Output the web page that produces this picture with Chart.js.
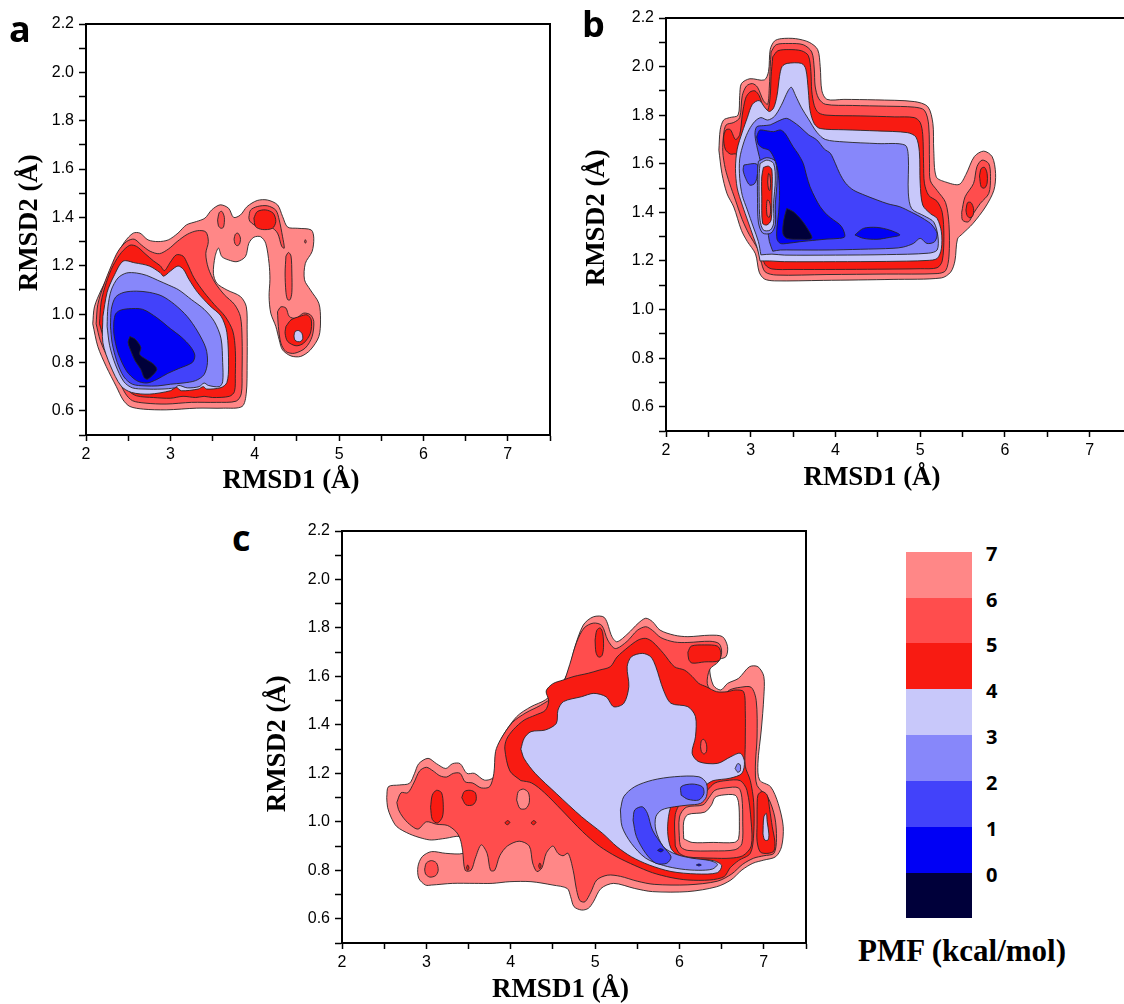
<!DOCTYPE html>
<html><head><meta charset="utf-8">
<script src="https://cdn.jsdelivr.net/npm/chart.js@4.4.1/dist/chart.umd.min.js"></script>
<style>
html,body{margin:0;padding:0;background:#fff;overflow:hidden;width:1124px;height:1004px;}
body{position:relative;}
canvas{position:absolute;}
.plab{position:absolute;font-family:"Open Sans",sans-serif;font-weight:700;font-size:36px;line-height:36px;color:#000;}
.cell{position:absolute;left:906px;width:66px;}
.clab{position:absolute;left:986px;font-family:"Open Sans",sans-serif;font-weight:700;font-size:20px;line-height:20px;color:#000;transform:translateY(-50%);}
.ctitle{position:absolute;left:858px;top:934px;font-family:"Liberation Serif","Times New Roman",serif;font-weight:700;font-size:31px;line-height:34px;color:#000;white-space:nowrap;}
</style></head>
<body>
<canvas id="ca" width="560" height="500" style="left:0;top:0"></canvas>
<canvas id="cb" width="562" height="500" style="left:580px;top:0"></canvas>
<canvas id="cc" width="560" height="500" style="left:256px;top:507px"></canvas>
<div class="plab" style="left:9px;top:11px">a</div>
<div class="plab" style="left:582px;top:6px">b</div>
<div class="plab" style="left:232px;top:520px">c</div>
<div id="cbar"></div>
<script>
// ---------- colour bar ----------
const pmfLevels = [7, 6, 5, 4, 3, 2, 1, 0];
const bandColors = ['#00003A', '#0000F5', '#4242FA', '#8787FA', '#C8C8FA', '#F81B12', '#FF4D4D', '#FF8787', '#FFFFFF'];
// bandColors[k]: k=0 -> PMF<0, k=1 -> 0..1, ... k=7 -> 6..7, k=8 -> above 7 (blank)

// ---------- panel a (RMSD1, RMSD2) contour outlines ----------
const a7_main = [[2.08,0.96],[2.10,1.03],[2.18,1.10],[2.28,1.17],[2.36,1.24],[2.46,1.30],[2.56,1.335],[2.64,1.335],[2.735,1.307],[2.855,1.30],[2.975,1.307],[3.09,1.335],[3.19,1.369],[3.31,1.383],[3.41,1.397],[3.49,1.431],[3.59,1.452],[3.69,1.438],[3.75,1.40],[3.83,1.41],[3.91,1.445],[4.03,1.47],[4.15,1.472],[4.27,1.452],[4.33,1.404],[4.39,1.36],[4.51,1.355],[4.67,1.348],[4.70,1.314],[4.68,1.259],[4.60,1.21],[4.59,1.142],[4.66,1.10],[4.76,1.045],[4.78,0.976],[4.76,0.907],[4.66,0.852],[4.545,0.825],[4.43,0.827],[4.33,0.852],[4.29,0.894],[4.25,0.949],[4.19,1.004],[4.17,1.073],[4.18,1.142],[4.17,1.21],[4.13,1.293],[4.07,1.32],[3.99,1.318],[3.93,1.293],[3.89,1.238],[3.79,1.217],[3.69,1.224],[3.61,1.238],[3.57,1.273],[3.53,1.238],[3.51,1.169],[3.55,1.128],[3.67,1.10],[3.83,1.073],[3.90,1.031],[3.91,0.935],[3.91,0.797],[3.90,0.673],[3.85,0.618],[3.63,0.611],[3.31,0.611],[2.95,0.604],[2.68,0.607],[2.52,0.618],[2.44,0.645],[2.36,0.70],[2.24,0.783],[2.14,0.866]];
const a6_main = [[2.12,0.96],[2.14,1.04],[2.21,1.12],[2.30,1.20],[2.38,1.26],[2.48,1.30],[2.57,1.31],[2.66,1.285],[2.76,1.26],[2.87,1.25],[2.98,1.27],[3.08,1.30],[3.2,1.33],[3.32,1.345],[3.42,1.34],[3.45,1.30],[3.42,1.25],[3.45,1.19],[3.53,1.13],[3.64,1.08],[3.76,1.04],[3.83,0.99],[3.85,0.90],[3.85,0.76],[3.84,0.67],[3.78,0.64],[3.55,0.635],[3.25,0.635],[2.95,0.628],[2.7,0.632],[2.55,0.642],[2.47,0.67],[2.39,0.725],[2.27,0.81],[2.17,0.89]];
const a6_dotA = [[3.56,1.39],[3.58,1.42],[3.61,1.425],[3.64,1.40],[3.63,1.36],[3.6,1.355],[3.57,1.365]];
const a6_dotB = [[3.755,1.31],[3.77,1.33],[3.8,1.335],[3.83,1.315],[3.82,1.29],[3.79,1.283],[3.765,1.292]];
const a6_armTop = [[3.93,1.40],[3.95,1.43],[4.03,1.445],[4.15,1.448],[4.25,1.43],[4.29,1.39],[4.33,1.32],[4.35,1.273],[4.32,1.28],[4.27,1.335],[4.19,1.36],[4.07,1.36],[3.99,1.37],[3.94,1.385]];
const a6_armStreak = [[4.37,1.24],[4.4,1.255],[4.43,1.24],[4.44,1.17],[4.44,1.09],[4.42,1.06],[4.39,1.06],[4.37,1.09],[4.36,1.17]];
const a6_armDot = [[4.59,1.30],[4.60,1.308],[4.61,1.30],[4.60,1.293]];
const a6_armLow = [[4.27,1.01],[4.31,1.03],[4.37,1.025],[4.41,0.99],[4.49,0.983],[4.58,1.004],[4.66,0.997],[4.70,0.97],[4.68,0.907],[4.6,0.86],[4.47,0.838],[4.37,0.845],[4.31,0.88],[4.28,0.949]];
const a5_main = [[2.16,0.96],[2.18,1.05],[2.24,1.13],[2.32,1.2],[2.42,1.255],[2.52,1.285],[2.6,1.28],[2.7,1.25],[2.8,1.22],[2.88,1.2],[2.93,1.18],[3.0,1.215],[3.07,1.245],[3.15,1.24],[3.2,1.21],[3.28,1.15],[3.4,1.09],[3.52,1.04],[3.65,0.99],[3.74,0.93],[3.77,0.85],[3.77,0.75],[3.76,0.68],[3.7,0.66],[3.5,0.655],[3.4,0.66],[3.3,0.655],[3.15,0.66],[3.0,0.652],[2.8,0.655],[2.6,0.662],[2.5,0.685],[2.43,0.735],[2.32,0.81],[2.22,0.89]];
const a5_armSpot = [[3.99,1.397],[4.03,1.424],[4.13,1.431],[4.22,1.417],[4.25,1.383],[4.21,1.355],[4.09,1.35],[4.01,1.362]];
const a5_armLow = [[4.37,0.949],[4.43,0.976],[4.53,0.99],[4.62,0.997],[4.67,0.976],[4.66,0.921],[4.58,0.88],[4.49,0.869],[4.39,0.887],[4.36,0.921]];
const a4_armDot = [[4.465,0.91],[4.48,0.928],[4.52,0.932],[4.56,0.92],[4.57,0.9],[4.55,0.888],[4.51,0.886],[4.475,0.893]];
const a4_main = [[2.2,0.99],[2.25,1.09],[2.33,1.157],[2.44,1.219],[2.58,1.212],[2.75,1.199],[2.88,1.171],[2.92,1.157],[3.0,1.178],[3.09,1.199],[3.155,1.185],[3.22,1.144],[3.325,1.089],[3.47,1.034],[3.6,0.992],[3.67,0.924],[3.69,0.786],[3.67,0.717],[3.6,0.696],[3.43,0.69],[3.39,0.70],[3.33,0.69],[3.13,0.683],[3.07,0.697],[3.0,0.683],[2.75,0.669],[2.54,0.676],[2.415,0.703],[2.29,0.786],[2.2,0.882]];
const a3_main = [[2.25,0.95],[2.26,1.03],[2.3,1.1],[2.38,1.15],[2.48,1.17],[2.6,1.17],[2.72,1.16],[2.85,1.14],[2.98,1.12],[3.1,1.1],[3.25,1.06],[3.4,1.02],[3.52,0.97],[3.6,0.9],[3.62,0.8],[3.62,0.72],[3.58,0.70],[3.45,0.705],[3.4,0.715],[3.34,0.70],[3.2,0.695],[3.1,0.705],[3.05,0.695],[2.9,0.69],[2.7,0.69],[2.55,0.695],[2.45,0.72],[2.35,0.79],[2.28,0.87]];
const a2_main = [[2.29,0.95],[2.3,1.02],[2.35,1.07],[2.45,1.09],[2.6,1.095],[2.75,1.09],[2.9,1.075],[3.05,1.04],[3.2,0.99],[3.32,0.93],[3.42,0.86],[3.44,0.8],[3.4,0.75],[3.3,0.725],[3.15,0.715],[3.0,0.71],[2.85,0.703],[2.7,0.703],[2.55,0.71],[2.45,0.74],[2.37,0.8],[2.31,0.88]];
const a1_main = [[2.33,0.97],[2.35,1.0],[2.4,1.015],[2.5,1.022],[2.67,1.02],[2.84,0.985],[3.0,0.94],[3.13,0.905],[3.24,0.865],[3.29,0.83],[3.26,0.8],[3.1,0.775],[2.97,0.755],[2.84,0.73],[2.72,0.715],[2.6,0.725],[2.48,0.765],[2.38,0.84],[2.33,0.92]];
const a0_main = [[2.52,0.907],[2.584,0.896],[2.65,0.862],[2.635,0.834],[2.71,0.813],[2.8,0.793],[2.84,0.772],[2.8,0.751],[2.73,0.731],[2.69,0.737],[2.65,0.772],[2.584,0.806],[2.54,0.841],[2.5,0.882]];

// ---------- panel b ----------
const b7_main = [[2.624,1.656],[2.64,1.74],[2.68,1.78],[2.75,1.79],[2.85,1.80],[2.87,1.88],[2.89,1.93],[2.99,1.95],[3.16,1.945],[3.21,1.98],[3.23,2.07],[3.28,2.105],[3.36,2.115],[3.53,2.115],[3.69,2.1],[3.79,2.07],[3.82,2.0],[3.84,1.9],[3.9,1.865],[4.1,1.865],[4.47,1.863],[4.93,1.856],[5.09,1.835],[5.15,1.766],[5.16,1.656],[5.19,1.546],[5.3,1.525],[5.46,1.515],[5.54,1.556],[5.64,1.63],[5.75,1.652],[5.85,1.629],[5.89,1.56],[5.87,1.491],[5.77,1.422],[5.62,1.353],[5.5,1.312],[5.44,1.29],[5.41,1.2],[5.36,1.154],[5.25,1.13],[4.68,1.124],[3.857,1.12],[3.28,1.118],[3.16,1.126],[3.1,1.154],[3.056,1.229],[2.96,1.28],[2.89,1.326],[2.8,1.422],[2.72,1.477],[2.66,1.56]];
const b6_main = [[3.24,2.06],[3.3,2.09],[3.45,2.095],[3.62,2.09],[3.72,2.06],[3.75,1.99],[3.76,1.92],[3.8,1.87],[3.88,1.845],[4.2,1.84],[4.6,1.837],[4.93,1.833],[5.05,1.82],[5.1,1.76],[5.11,1.6],[5.12,1.53],[5.2,1.49],[5.3,1.44],[5.34,1.35],[5.34,1.22],[5.3,1.16],[5.2,1.148],[4.6,1.146],[3.9,1.144],[3.3,1.142],[3.17,1.155],[3.12,1.2],[3.08,1.25],[2.98,1.31],[2.9,1.37],[2.82,1.45],[2.75,1.52],[2.7,1.58],[2.67,1.65],[2.68,1.72],[2.71,1.76],[2.8,1.77],[2.87,1.79],[2.9,1.88],[2.95,1.92],[3.02,1.93],[3.08,1.915],[3.15,1.86],[3.2,1.845],[3.22,1.92],[3.23,2.0]];
const b6_island = [[5.49,1.40],[5.53,1.464],[5.63,1.519],[5.67,1.588],[5.73,1.615],[5.81,1.60],[5.83,1.547],[5.81,1.478],[5.71,1.437],[5.63,1.396],[5.57,1.361],[5.5,1.368]];
const b5_main = [[3.26,2.04],[3.32,2.065],[3.45,2.07],[3.6,2.065],[3.68,2.045],[3.71,1.98],[3.72,1.9],[3.75,1.84],[3.8,1.81],[3.9,1.8],[4.3,1.797],[4.7,1.793],[4.93,1.79],[5.0,1.77],[5.03,1.72],[5.04,1.6],[5.05,1.52],[5.1,1.47],[5.2,1.445],[5.26,1.40],[5.28,1.3],[5.26,1.2],[5.2,1.172],[5.0,1.168],[4.5,1.166],[4.0,1.165],[3.5,1.165],[3.25,1.167],[3.17,1.185],[3.13,1.23],[3.09,1.29],[3.02,1.34],[2.94,1.41],[2.88,1.48],[2.85,1.56],[2.86,1.62],[2.83,1.64],[2.76,1.64],[2.7,1.66],[2.68,1.71],[2.71,1.74],[2.76,1.74],[2.82,1.7],[2.87,1.72],[2.9,1.8],[2.94,1.87],[2.99,1.895],[3.05,1.9],[3.1,1.88],[3.15,1.835],[3.2,1.82],[3.23,1.88],[3.24,1.96]];
const b5_isl1 = [[5.7,1.55],[5.72,1.58],[5.76,1.585],[5.79,1.56],[5.79,1.52],[5.76,1.5],[5.72,1.505]];
const b5_isl2 = [[5.54,1.41],[5.56,1.44],[5.6,1.44],[5.63,1.415],[5.62,1.385],[5.58,1.378],[5.55,1.39]];
const b4_main = [[3.11,1.20],[3.08,1.25],[3.03,1.30],[2.97,1.36],[2.9,1.43],[2.84,1.5],[2.82,1.58],[2.84,1.66],[2.9,1.73],[2.96,1.79],[3.02,1.845],[3.1,1.86],[3.17,1.83],[3.22,1.815],[3.27,1.83],[3.31,1.88],[3.34,1.96],[3.37,2.0],[3.43,2.013],[3.6,2.013],[3.65,1.99],[3.68,1.9],[3.7,1.82],[3.75,1.765],[3.82,1.745],[4.1,1.74],[4.5,1.735],[4.85,1.728],[4.95,1.71],[4.99,1.65],[5.0,1.52],[5.03,1.43],[5.12,1.395],[5.2,1.375],[5.25,1.32],[5.25,1.25],[5.2,1.21],[5.08,1.202],[4.6,1.198],[4.0,1.197],[3.4,1.197],[3.22,1.2]];
const b3_main = [[3.12,1.225],[3.09,1.28],[3.03,1.34],[2.96,1.41],[2.9,1.47],[2.87,1.54],[2.87,1.62],[2.92,1.69],[2.98,1.74],[3.05,1.775],[3.12,1.79],[3.2,1.78],[3.28,1.795],[3.36,1.84],[3.44,1.9],[3.48,1.915],[3.53,1.88],[3.6,1.83],[3.68,1.785],[3.78,1.73],[3.88,1.7],[4.1,1.69],[4.5,1.683],[4.82,1.677],[4.86,1.63],[4.86,1.48],[4.9,1.415],[5.05,1.385],[5.16,1.36],[5.21,1.30],[5.2,1.245],[5.1,1.232],[4.6,1.226],[4.0,1.224],[3.4,1.224],[3.25,1.228]];
const b2_main = [[3.26,1.24],[3.22,1.28],[3.2,1.33],[3.17,1.4],[3.15,1.5],[3.12,1.6],[3.08,1.66],[3.05,1.72],[3.07,1.752],[3.15,1.757],[3.23,1.76],[3.32,1.775],[3.42,1.787],[3.5,1.773],[3.58,1.752],[3.68,1.72],[3.78,1.698],[3.87,1.66],[3.94,1.643],[4.0,1.6],[4.05,1.56],[4.12,1.52],[4.21,1.492],[4.35,1.47],[4.49,1.451],[4.62,1.435],[4.76,1.423],[4.9,1.40],[5.0,1.382],[5.1,1.36],[5.14,1.348],[5.2,1.313],[5.17,1.279],[5.08,1.272],[5.0,1.293],[4.92,1.272],[4.8,1.257],[4.68,1.252],[4.3,1.248],[3.9,1.245],[3.5,1.245],[3.35,1.245]];
const b2_pocket = [[2.92,1.595],[3.07,1.599],[3.08,1.56],[3.05,1.52],[2.99,1.512],[2.94,1.54],[2.91,1.574]];
const b1_main = [[3.07,1.71],[3.09,1.73],[3.11,1.739],[3.2,1.735],[3.27,1.732],[3.35,1.739],[3.405,1.725],[3.45,1.70],[3.5,1.67],[3.56,1.64],[3.62,1.601],[3.66,1.55],[3.7,1.505],[3.76,1.46],[3.82,1.423],[3.9,1.39],[3.98,1.368],[4.05,1.35],[4.09,1.33],[4.11,1.30],[4.05,1.293],[3.9,1.29],[3.78,1.286],[3.58,1.279],[3.425,1.272],[3.35,1.272],[3.31,1.29],[3.31,1.34],[3.33,1.40],[3.34,1.49],[3.32,1.57],[3.28,1.62],[3.22,1.655],[3.14,1.665],[3.09,1.68]];
const b1_blob2 = [[4.23,1.307],[4.33,1.334],[4.49,1.338],[4.64,1.327],[4.76,1.307],[4.64,1.297],[4.49,1.289],[4.33,1.293]];
const b0_main = [[3.425,1.416],[3.5,1.403],[3.6,1.368],[3.68,1.327],[3.72,1.293],[3.58,1.289],[3.425,1.293],[3.38,1.313],[3.39,1.368]];
const b3_strip = [[3.09,1.61],[3.19,1.625],[3.29,1.61],[3.31,1.53],[3.29,1.43],[3.29,1.35],[3.24,1.315],[3.14,1.315],[3.09,1.36],[3.08,1.46],[3.08,1.56]];
const b4_strip = [[3.11,1.601],[3.19,1.615],[3.27,1.601],[3.29,1.533],[3.27,1.437],[3.27,1.355],[3.23,1.327],[3.15,1.327],[3.11,1.368],[3.1,1.464],[3.1,1.56]];
const b5_strip = [[3.15,1.585],[3.21,1.59],[3.25,1.574],[3.25,1.464],[3.24,1.368],[3.19,1.348],[3.14,1.355],[3.13,1.464],[3.13,1.546]];
const b6_strip1 = [[3.2,1.525],[3.21,1.56],[3.225,1.555],[3.235,1.52],[3.225,1.49],[3.21,1.495]];
const b6_strip2 = [[3.185,1.42],[3.195,1.45],[3.22,1.445],[3.235,1.41],[3.22,1.38],[3.195,1.385]];

// ---------- panel c ----------
const c7_main = [[2.53,1.10],[2.55,1.145],[2.68,1.152],[2.8,1.159],[2.86,1.2],[2.91,1.24],[3.02,1.262],[3.12,1.24],[3.23,1.22],[3.31,1.24],[3.40,1.24],[3.48,1.2],[3.57,1.2],[3.69,1.172],[3.8,1.186],[3.84,1.296],[3.9,1.351],[4.07,1.434],[4.24,1.475],[4.41,1.503],[4.58,1.558],[4.69,1.626],[4.75,1.709],[4.86,1.812],[4.98,1.846],[5.11,1.843],[5.2,1.764],[5.26,1.743],[5.39,1.777],[5.51,1.819],[5.6,1.84],[5.68,1.826],[5.77,1.791],[5.94,1.77],[6.1,1.764],[6.36,1.77],[6.51,1.764],[6.57,1.723],[6.55,1.681],[6.44,1.668],[6.36,1.64],[6.4,1.564],[6.49,1.544],[6.57,1.571],[6.7,1.592],[6.83,1.64],[6.93,1.64],[7.0,1.6],[7.0,1.516],[6.97,1.379],[6.93,1.241],[6.95,1.172],[7.08,1.145],[7.17,1.076],[7.23,0.98],[7.21,0.897],[7.14,0.856],[7.0,0.842],[6.87,0.829],[6.74,0.801],[6.61,0.76],[6.44,0.732],[6.1,0.712],[5.68,0.712],[5.47,0.725],[5.22,0.746],[5.07,0.725],[4.98,0.67],[4.92,0.643],[4.84,0.636],[4.75,0.65],[4.71,0.691],[4.67,0.725],[4.5,0.739],[4.24,0.753],[3.99,0.753],[3.78,0.746],[3.57,0.746],[3.31,0.746],[3.06,0.739],[2.99,0.739],[2.91,0.767],[2.9,0.815],[2.95,0.856],[3.06,0.877],[3.23,0.87],[3.44,0.87],[3.52,0.9],[3.4,0.939],[3.23,0.932],[3.06,0.925],[2.95,0.932],[2.8,0.95],[2.65,0.98],[2.58,1.02],[2.54,1.06]];
const c6_main = [[2.65,1.08],[2.7,1.12],[2.78,1.12],[2.85,1.16],[2.92,1.21],[3.0,1.225],[3.08,1.21],[3.16,1.19],[3.24,1.185],[3.32,1.2],[3.4,1.2],[3.46,1.165],[3.55,1.16],[3.65,1.14],[3.75,1.145],[3.8,1.2],[3.82,1.29],[3.88,1.34],[4.02,1.41],[4.18,1.45],[4.35,1.48],[4.52,1.52],[4.62,1.57],[4.7,1.65],[4.78,1.74],[4.87,1.8],[4.98,1.82],[5.08,1.81],[5.15,1.75],[5.24,1.715],[5.38,1.745],[5.5,1.79],[5.6,1.805],[5.68,1.79],[5.78,1.76],[5.94,1.742],[6.1,1.74],[6.36,1.745],[6.47,1.735],[6.5,1.70],[6.46,1.66],[6.36,1.63],[6.33,1.57],[6.4,1.53],[6.5,1.52],[6.6,1.545],[6.72,1.555],[6.85,1.555],[6.91,1.5],[6.92,1.35],[6.9,1.23],[6.92,1.15],[7.05,1.10],[7.13,1.02],[7.15,0.93],[7.12,0.87],[7.0,0.86],[6.88,0.85],[6.75,0.825],[6.62,0.785],[6.45,0.755],[6.1,0.74],[5.7,0.742],[5.5,0.755],[5.3,0.775],[5.15,0.78],[5.02,0.76],[4.95,0.71],[4.88,0.67],[4.82,0.675],[4.78,0.72],[4.74,0.8],[4.68,0.87],[4.62,0.86],[4.56,0.87],[4.5,0.9],[4.42,0.87],[4.37,0.81],[4.31,0.795],[4.26,0.83],[4.22,0.9],[4.1,0.92],[3.96,0.9],[3.87,0.86],[3.81,0.8],[3.76,0.8],[3.72,0.87],[3.65,0.905],[3.58,0.85],[3.53,0.8],[3.46,0.8],[3.43,0.88],[3.4,0.93],[3.35,0.96],[3.25,0.985],[3.12,0.99],[3.0,1.0],[2.9,0.97],[2.8,0.99],[2.72,1.02],[2.67,1.05]];
const c7_hole1 = [[4.07,1.09],[4.09,1.125],[4.15,1.135],[4.21,1.12],[4.22,1.08],[4.18,1.055],[4.11,1.055]];
const c6_lowLeft = [[2.98,0.805],[3.0,0.83],[3.06,0.84],[3.12,0.83],[3.14,0.8],[3.11,0.778],[3.04,0.772],[2.99,0.785]];
const c5_lobe1 = [[3.05,1.06],[3.07,1.11],[3.12,1.13],[3.18,1.12],[3.2,1.07],[3.19,1.02],[3.13,0.995],[3.07,1.01]];
const c5_lobe2 = [[3.42,1.1],[3.45,1.125],[3.52,1.13],[3.58,1.12],[3.59,1.09],[3.55,1.07],[3.47,1.07]];
const c5_dot1 = [[3.93,0.995],[3.96,1.005],[3.99,0.998],[3.96,0.988]];
const c5_dot2 = [[4.24,0.995],[4.27,1.005],[4.3,0.998],[4.27,0.988]];
const c5_dot3 = [[3.475,0.81],[3.49,0.822],[3.505,0.81],[3.49,0.8]];
const c5_dot4 = [[4.33,0.818],[4.345,0.83],[4.36,0.818],[4.345,0.806]];
const c5_top1 = [[5.0,1.75],[5.02,1.79],[5.06,1.8],[5.09,1.78],[5.1,1.72],[5.08,1.685],[5.04,1.68],[5.01,1.7]];
const c5_top2 = [[6.1,1.7],[6.14,1.725],[6.3,1.73],[6.45,1.725],[6.49,1.7],[6.47,1.665],[6.3,1.66],[6.15,1.655],[6.11,1.67]];
const c5_main = [[4.12,1.17],[3.99,1.21],[3.93,1.30],[3.95,1.34],[4.03,1.38],[4.16,1.42],[4.29,1.44],[4.41,1.46],[4.45,1.50],[4.42,1.54],[4.5,1.57],[4.62,1.585],[4.75,1.60],[4.92,1.613],[5.05,1.626],[5.18,1.64],[5.26,1.68],[5.39,1.72],[5.51,1.75],[5.6,1.757],[5.68,1.743],[5.81,1.695],[5.94,1.64],[6.06,1.626],[6.15,1.60],[6.23,1.571],[6.32,1.557],[6.44,1.537],[6.57,1.537],[6.66,1.544],[6.76,1.537],[6.78,1.46],[6.78,1.32],[6.78,1.23],[6.84,1.17],[6.88,1.08],[6.88,0.95],[6.84,0.87],[6.7,0.84],[6.6,0.81],[6.53,0.774],[6.36,0.76],[6.1,0.76],[5.9,0.77],[5.68,0.79],[5.47,0.82],[5.26,0.855],[5.05,0.9],[4.85,0.96],[4.6,1.05],[4.4,1.12],[4.25,1.16]];
const c6_ring = [[5.95,0.9],[5.95,1.03],[6.05,1.09],[6.25,1.1],[6.33,1.13],[6.42,1.16],[6.55,1.17],[6.72,1.17],[6.8,1.13],[6.85,1.0],[6.85,0.9],[6.75,0.86],[6.6,0.85],[6.4,0.85],[6.1,0.855],[6.0,0.87]];
const c7_ring = [[6.0,0.92],[6.0,1.02],[6.08,1.06],[6.28,1.07],[6.35,1.1],[6.42,1.13],[6.55,1.14],[6.7,1.14],[6.74,1.1],[6.75,1.0],[6.74,0.91],[6.66,0.885],[6.4,0.88],[6.1,0.882],[6.02,0.895]];
const c8_hole = [[6.05,0.93],[6.05,1.0],[6.1,1.03],[6.3,1.04],[6.38,1.07],[6.42,1.1],[6.5,1.11],[6.66,1.11],[6.7,1.08],[6.71,1.0],[6.7,0.93],[6.65,0.915],[6.4,0.915],[6.15,0.915]];
const c5_farRight = [[6.92,1.05],[6.93,1.11],[6.98,1.125],[7.04,1.11],[7.07,1.05],[7.1,0.98],[7.13,0.92],[7.12,0.88],[7.05,0.87],[6.96,0.875],[6.92,0.92],[6.92,0.99]];
const c4_farRight = [[6.99,0.95],[7.0,1.02],[7.03,1.035],[7.04,1.0],[7.06,0.95],[7.05,0.925],[7.01,0.925]];
const c4_main = [[4.12,1.3],[4.16,1.345],[4.24,1.372],[4.41,1.379],[4.54,1.406],[4.56,1.461],[4.625,1.496],[4.837,1.516],[4.985,1.53],[5.13,1.516],[5.22,1.475],[5.34,1.489],[5.4,1.558],[5.38,1.64],[5.43,1.681],[5.56,1.695],[5.66,1.681],[5.72,1.64],[5.81,1.544],[5.9,1.489],[6.1,1.475],[6.19,1.434],[6.19,1.351],[6.15,1.283],[6.23,1.248],[6.45,1.241],[6.61,1.269],[6.72,1.283],[6.77,1.25],[6.74,1.2],[6.6,1.18],[6.4,1.17],[6.3,1.15],[6.1,1.12],[5.95,1.1],[5.88,1.04],[5.86,0.96],[5.9,0.89],[6.0,0.86],[6.2,0.845],[6.4,0.84],[6.5,0.82],[6.45,0.79],[6.2,0.785],[5.9,0.795],[5.64,0.822],[5.43,0.856],[5.26,0.897],[5.09,0.952],[4.84,1.021],[4.54,1.117],[4.29,1.2],[4.16,1.26]];
const c6_rightRing = [[6.25,1.31],[6.26,1.335],[6.29,1.34],[6.32,1.32],[6.32,1.29],[6.29,1.28],[6.26,1.29]];
const c3_dot = [[6.66,1.22],[6.69,1.24],[6.72,1.235],[6.72,1.21],[6.69,1.205]];
const c3_hook = [[5.3,1.049],[5.34,1.104],[5.47,1.145],[5.68,1.172],[5.94,1.186],[6.23,1.186],[6.32,1.159],[6.32,1.104],[6.25,1.076],[6.1,1.069],[5.94,1.062],[5.79,1.049],[5.72,1.021],[5.72,0.966],[5.81,0.897],[5.96,0.866],[6.15,0.85],[6.36,0.84],[6.45,0.825],[6.39,0.805],[6.23,0.8],[6.02,0.805],[5.81,0.82],[5.6,0.85],[5.43,0.911],[5.32,0.98]];
const c2_upper = [[6.02,1.11],[6.02,1.145],[6.15,1.156],[6.27,1.145],[6.29,1.117],[6.23,1.09],[6.1,1.093]];
const c2_lower = [[5.45,1.007],[5.47,1.049],[5.56,1.062],[5.62,1.035],[5.68,0.966],[5.81,0.897],[5.9,0.856],[5.85,0.829],[5.72,0.829],[5.6,0.87],[5.49,0.939]];
const c1_dotA = [[5.74,0.882],[5.77,0.889],[5.81,0.884],[5.78,0.876]];
const c1_dotB = [[6.2,0.822],[6.23,0.826],[6.26,0.822],[6.23,0.818]];

// drawing order (bottom first): [outline, band index]
const layersA = [[a7_main,7],[a6_main,6],[a6_dotA,6],[a6_dotB,6],[a6_armTop,6],[a6_armStreak,6],[a6_armDot,6],[a6_armLow,6],[a5_main,5],[a5_armSpot,5],[a5_armLow,5],[a4_armDot,4],[a4_main,4],[a3_main,3],[a2_main,2],[a1_main,1],[a0_main,0]];
const layersB = [[b7_main,7],[b6_main,6],[b6_island,6],[b5_main,5],[b5_isl1,5],[b5_isl2,5],[b4_main,4],[b3_main,3],[b2_main,2],[b2_pocket,2],[b1_main,1],[b1_blob2,1],[b0_main,0],[b3_strip,3],[b4_strip,4],[b5_strip,5],[b6_strip1,6],[b6_strip2,6]];
const layersC = [[c7_main,7],[c6_main,6],[c7_hole1,7],[c6_lowLeft,6],[c5_lobe1,5],[c5_lobe2,5],[c5_dot1,5],[c5_dot2,5],[c5_dot3,5],[c5_dot4,5],[c5_top1,5],[c5_top2,5],[c5_main,5],[c6_ring,6],[c7_ring,7],[c8_hole,8],[c5_farRight,5],[c4_farRight,4],[c4_main,4],[c6_rightRing,6],[c3_dot,3],[c3_hook,3],[c2_upper,2],[c2_lower,2],[c1_dotA,1],[c1_dotB,1]];

const xRange = [2, 7.5];
const yRange = [0.5, 2.2];
const EM = '\u2003', EN = '\u2002';

function makePanel(id, layers, g) {
  const datasets = layers.map(([pts, band]) => ({
    data: pts.concat([pts[0]]).map(p => ({x: p[0], y: p[1]})),
    showLine: true,
    fill: 'shape',
    backgroundColor: bandColors[band],
    borderColor: '#262626',
    borderWidth: 0.9,
    pointRadius: 0,
    pointHoverRadius: 0,
    tension: 0.3
  })).reverse();
  const tickFont = {family: '"Liberation Sans", Arial, sans-serif', size: 16};
  const titleFont = {family: '"Liberation Serif", "Times New Roman", serif', size: 27, weight: 'bold'};
  const frame = {display: true, color: '#000', width: 2};
  new Chart(document.getElementById(id), {
    type: 'scatter',
    data: {datasets},
    options: {
      responsive: false, animation: false, events: [],
      layout: {padding: {left: 0, right: 10, top: g.top, bottom: 0}},
      plugins: {legend: {display: false}, tooltip: {enabled: false}},
      scales: {
        x: {
          type: 'linear', position: 'bottom', min: xRange[0], max: xRange[1],
          ticks: {stepSize: 0.5, autoSkip: false, maxRotation: 0, color: '#000', font: tickFont, padding: 4,
                  callback: v => (Math.abs(v - Math.round(v)) < 1e-6 ? String(Math.round(v)) : '')},
          grid: {display: true, drawOnChartArea: false, drawTicks: true, tickLength: 6, tickColor: '#000', tickWidth: 1.5},
          border: frame,
          title: {display: true, text: g.xTitle, color: '#000', font: titleFont, padding: {top: 0, bottom: g.xTitlePad}},
          afterFit: s => { s.height = g.xH; }
        },
        y: {
          type: 'linear', position: 'left', min: yRange[0], max: yRange[1],
          ticks: {stepSize: 0.1, autoSkip: false, color: '#000', font: tickFont, padding: 5,
                  callback: v => (Math.round(v * 10) % 2 === 0 ? v.toFixed(1) : '')},
          grid: {display: true, drawOnChartArea: false, drawTicks: true, tickLength: 7, tickColor: '#000', tickWidth: 1.5},
          border: frame,
          title: {display: true, text: g.yTitle, color: '#000', font: titleFont, padding: {top: g.yTitlePad, bottom: 0}},
          afterFit: s => { s.width = 86; }
        },
        x2: {
          type: 'linear', position: 'top', min: xRange[0], max: xRange[1],
          ticks: {display: false}, grid: {display: false}, border: frame,
          afterFit: s => { s.height = 0; }
        },
        y2: {
          type: 'linear', position: 'right', min: yRange[0], max: yRange[1],
          ticks: {display: false}, grid: {display: false}, border: frame,
          afterFit: s => { s.width = 0; }
        }
      }
    }
  });
}

makePanel('ca', layersA, {top: 24, xH: 65, xTitlePad: 3, yTitlePad: 14,
  xTitle: 'RMSD1 (Å)' + EM + EM, yTitle: EN + 'RMSD2 (Å)'});
makePanel('cb', layersB, {top: 18, xH: 69, xTitlePad: 6, yTitlePad: 1,
  xTitle: 'RMSD1 (Å)' + EM + EM, yTitle: EN + 'RMSD2 (Å)'});
makePanel('cc', layersC, {top: 24, xH: 64, xTitlePad: 1, yTitlePad: 6,
  xTitle: 'RMSD1 (Å)' + EM, yTitle: 'RMSD2 (Å)' + EN});

// colour bar (legend)
const cbar = document.getElementById('cbar');
const cellTops = [552, 598, 643, 689, 735, 781, 827, 873, 918];
pmfLevels.forEach((lv, i) => {
  const d = document.createElement('div');
  d.className = 'cell';
  d.style.top = cellTops[i] + 'px';
  d.style.height = (cellTops[i + 1] - cellTops[i]) + 'px';
  d.style.background = bandColors[7 - i];
  cbar.appendChild(d);
  const t = document.createElement('div');
  t.className = 'clab';
  t.style.top = (cellTops[i] + 2) + 'px';
  t.textContent = String(lv);
  cbar.appendChild(t);
});
const ttl = document.createElement('div');
ttl.className = 'ctitle';
ttl.textContent = 'PMF (kcal/mol)';
cbar.appendChild(ttl);
</script>
</body></html>
